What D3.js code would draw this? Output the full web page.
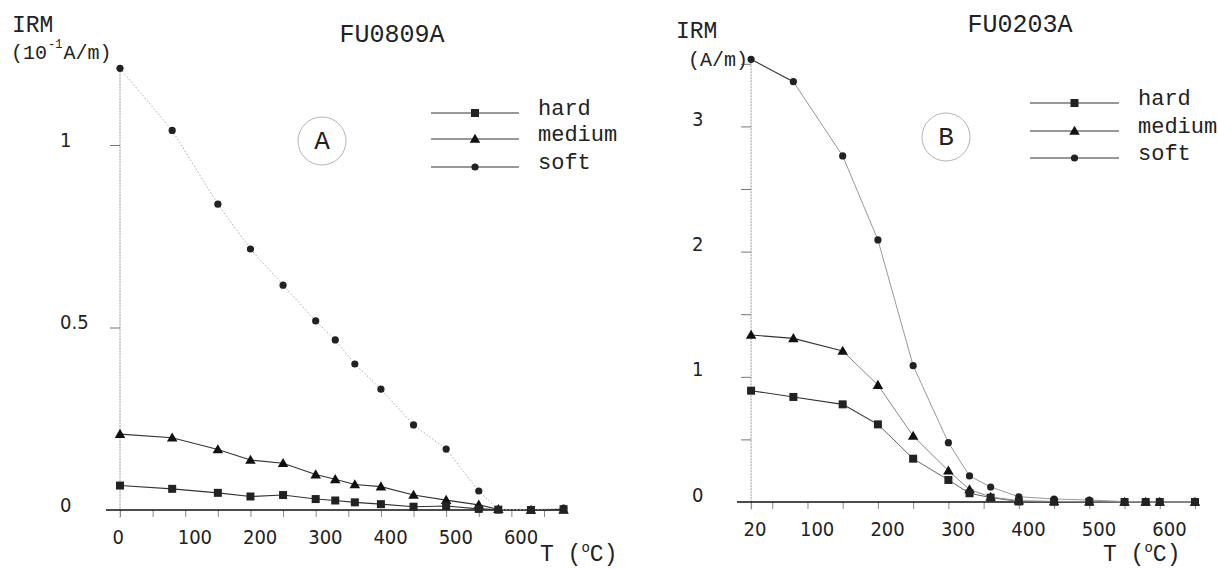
<!DOCTYPE html>
<html>
<head>
<meta charset="utf-8">
<script src="https://cdn.jsdelivr.net/npm/d3@7"></script>
<style>
  body { margin: 0; background: #fff; }
  svg { display: block; }
  .mono { font-family: "Liberation Mono", "DejaVu Sans Mono", monospace; fill: #222; }
  .num { font-family: "DejaVu Sans Condensed", "DejaVu Sans", sans-serif; font-stretch: condensed; fill: #222; }
</style>
</head>
<body>
<div id="chart"></div>
<script>
// panel A : FU0809A  (IRM in 10^-1 A/m)
const tempsA  = [0, 80, 150, 200, 250, 300, 330, 360, 400, 450, 500, 550, 580, 630, 680];
const hardA   = [0.067, 0.058, 0.047, 0.037, 0.041, 0.030, 0.026, 0.021, 0.016, 0.009, 0.011, 0.003, 0.001, 0.000, 0.002];
const mediumA = [0.208, 0.198, 0.166, 0.137, 0.128, 0.097, 0.084, 0.070, 0.064, 0.041, 0.027, 0.014, 0.002, 0.000, 0.000];
const softA   = [1.21, 1.04, 0.838, 0.715, 0.616, 0.518, 0.466, 0.400, 0.331, 0.233, 0.167, 0.052, 0.001, 0.001, 0.005];
const xTicksA = [0, 50, 100, 150, 200, 250, 300, 350, 400, 450, 500, 550, 600, 650];
const xLabelsA = [0, 100, 200, 300, 400, 500, 600];
const yTicksA = [0.5, 1];
const yLabelsA = ["0", "0.5", "1"];

// panel B : FU0203A  (IRM in A/m)
const tempsB  = [20, 80, 150, 200, 250, 300, 330, 360, 400, 450, 500, 550, 580, 600, 650];
const hardB   = [0.889, 0.839, 0.780, 0.620, 0.346, 0.176, 0.070, 0.035, 0.004, 0.002, 0.001, 0, 0, 0, 0];
const mediumB = [1.334, 1.307, 1.206, 0.934, 0.527, 0.250, 0.100, 0.040, 0.010, 0.005, 0.002, 0, 0, 0, 0];
const softB   = [3.536, 3.357, 2.764, 2.093, 1.089, 0.474, 0.208, 0.120, 0.042, 0.024, 0.016, 0.003, 0.002, 0.001, 0];
const xTicksB = [50, 100, 150, 200, 250, 300, 350, 400, 450, 500, 550, 600, 650];
const xLabelsB = [20, 100, 200, 300, 400, 500, 600];
const yTicksB = [0.5, 1, 1.5, 2, 2.5, 3, 3.5];
const yLabelsB = ["0", "1", "2", "3"];

const seriesNames = ["hard", "medium", "soft"];

const W = 1218, H = 569;
const svg = d3.select("#chart").append("svg").attr("width", W).attr("height", H);

function marker(g, kind, x, y) {
  if (kind === "hard") {
    g.append("rect").attr("x", x - 4).attr("y", y - 4).attr("width", 8).attr("height", 8)
      .attr("fill", "#222");
  } else if (kind === "medium") {
    g.append("path").attr("d", d3.symbol(d3.symbolTriangle, 48)()).attr("transform", `translate(${x},${y + 0.8})`)
      .attr("fill", "#111");
  } else {
    g.append("circle").attr("cx", x).attr("cy", y).attr("r", 3.6).attr("fill", "#222");
  }
}

function panel(cfg) {
  const g = svg.append("g");
  const x = d3.scaleLinear().domain([0, 650]).range(cfg.xRange);
  const y = d3.scaleLinear().domain(cfg.yDomain).range(cfg.yRange);
  const y0 = y(0);

  // y axis (dotted grey) from top point down below baseline
  g.append("line").attr("x1", x(cfg.temps[0])).attr("x2", x(cfg.temps[0]))
    .attr("y1", y(d3.max(cfg.soft)) + 3).attr("y2", y0 + 8)
    .attr("stroke", "#999").attr("stroke-width", 1).attr("stroke-dasharray", "2,1");

  const yAxis = d3.axisLeft(y).tickValues(cfg.yTicks).tickSize(10).tickFormat("");
  g.append("g").attr("transform", `translate(${x(cfg.temps[0])},0)`).call(yAxis)
    .call(a => a.select(".domain").remove())
    .call(a => a.selectAll("line").attr("stroke", "#777"));

  cfg.yLabels.forEach(t => {
    g.append("text").attr("class", "num").attr("x", cfg.yLabelX).attr("y", y(+t) - cfg.yLabelShift)
      .attr("dominant-baseline", "middle").attr("font-size", 20).text(t);
  });

  // x axis
  const xAxis = d3.axisBottom(x).tickValues(cfg.xTicks.concat(cfg.xLabels.filter(v => !cfg.xTicks.includes(v))))
    .tickSize(7).tickFormat(d => cfg.xLabels.includes(d) ? d : "");
  g.append("g").attr("transform", `translate(0,${y0})`).call(xAxis)
    .call(a => a.select(".domain").remove())
    .call(a => a.selectAll("line").attr("stroke", "#888"))
    .call(a => a.selectAll("text").attr("class", "num").attr("font-size", 20)
      .attr("text-anchor", "start").attr("x", -8).attr("y", 20).attr("dy", "0.71em"));
  g.append("line").attr("x1", cfg.xRange[0] - (cfg.xLineStart || 0)).attr("x2", cfg.xLineEnd)
    .attr("y1", y0).attr("y2", y0).attr("stroke", "#111").attr("stroke-width", 1.6);

  // lines + markers
  const line = d3.line().x(d => x(d[0])).y(d => y(d[1]));
  seriesNames.forEach(name => {
    const vals = cfg[name];
    const pts = cfg.temps.map((t, i) => [t, vals[i]]);
    const st = cfg.styles[name];
    const k = st.solidTo;
    if (k > 0) {
      g.append("path").attr("d", line(pts.slice(0, k + 1))).attr("fill", "none")
        .attr("stroke", "#333").attr("stroke-width", 1.1);
    }
    g.append("path").attr("d", line(pts.slice(Math.max(0, k)))).attr("fill", "none")
      .attr("stroke", st.rest).attr("stroke-width", 1)
      .attr("stroke-dasharray", st.dash || null);
  });
  seriesNames.slice().reverse().forEach(name => {
    cfg.temps.forEach((t, i) => marker(g, name, x(t), y(cfg[name][i])));
  });

  // legend
  seriesNames.forEach((name, i) => {
    const ly = cfg.legendY[i];
    g.append("line").attr("x1", cfg.legendX[0]).attr("x2", cfg.legendX[1]).attr("y1", ly).attr("y2", ly)
      .attr("stroke", "#333").attr("stroke-width", 1);
    marker(g, name, (cfg.legendX[0] + cfg.legendX[1]) / 2, ly);
    g.append("text").attr("class", "mono").attr("x", cfg.legendX[1] + 19).attr("y", ly + 2)
      .attr("font-size", 22).text(name);
  });

  // panel letter in circle
  g.append("circle").attr("cx", cfg.badge[0]).attr("cy", cfg.badge[1]).attr("r", 24)
    .attr("fill", "none").attr("stroke", "#aaa").attr("stroke-width", 0.9);
  g.append("text").attr("class", "mono").attr("x", cfg.badge[0]).attr("y", cfg.badge[1] + 8)
    .attr("text-anchor", "middle").attr("font-size", 26).text(cfg.letter);

  // title
  g.append("text").attr("class", "mono").attr("x", cfg.title[0]).attr("y", cfg.title[1])
    .attr("text-anchor", "middle").attr("font-size", 25).text(cfg.name);

  // y unit
  g.append("text").attr("class", "mono").attr("x", cfg.irm[0]).attr("y", cfg.irm[1])
    .attr("font-size", 23).text("IRM");
  const u = g.append("text").attr("class", "mono").attr("x", cfg.unit[0]).attr("y", cfg.unit[1])
    .attr("font-size", 20);
  if (cfg.letter === "A") {
    u.append("tspan").text("(10");
    u.append("tspan").attr("font-size", 12).attr("dy", -11).attr("dx", 1).text("-1");
    u.append("tspan").attr("dy", 11).attr("dx", 1).text("A/m)");
  } else {
    u.text("(A/m)");
  }

  // x unit
  const tu = g.append("text").attr("class", "mono").attr("x", cfg.tLabel[0]).attr("y", cfg.tLabel[1])
    .attr("font-size", 23);
  tu.append("tspan").text("T (");
  tu.append("tspan").attr("font-size", 14).attr("dy", -9).text("o");
  tu.append("tspan").attr("dy", 9).text("C)");
}

panel({
  name: "FU0809A", letter: "A",
  temps: tempsA, hard: hardA, medium: mediumA, soft: softA,
  xTicks: xTicksA, xLabels: xLabelsA, yTicks: yTicksA, yLabels: yLabelsA,
  xRange: [120, 544], yDomain: [0, 1], yRange: [510, 145],
  xLineStart: 14, xLineEnd: 567,
  yLabelX: 60, yLabelShift: 4,
  styles: {
    hard: { solidTo: 14, rest: "#333" },
    medium: { solidTo: 14, rest: "#333" },
    soft: { solidTo: 0, rest: "#aaa", dash: "1.5,2" }
  },
  legendX: [431, 519], legendY: [113, 139, 167],
  badge: [322, 141], title: [392, 42], irm: [12, 32], unit: [11, 59],
  tLabel: [540, 561]
});

panel({
  name: "FU0203A", letter: "B",
  temps: tempsB, hard: hardB, medium: mediumB, soft: softB,
  xTicks: xTicksB, xLabels: xLabelsB, yTicks: yTicksB, yLabels: yLabelsB,
  xRange: [737, 1195], yDomain: [0, 3], yRange: [502, 126.4],
  xLineStart: 0, xLineEnd: 1199,
  yLabelX: 692, yLabelShift: 6,
  styles: {
    hard: { solidTo: 3, rest: "#666" },
    medium: { solidTo: 2, rest: "#888" },
    soft: { solidTo: 1, rest: "#999" }
  },
  legendX: [1030, 1119], legendY: [103, 131, 158],
  badge: [946, 137], title: [1020, 32], irm: [676, 38], unit: [688, 66],
  tLabel: [1103, 561]
});
</script>
</body>
</html>
